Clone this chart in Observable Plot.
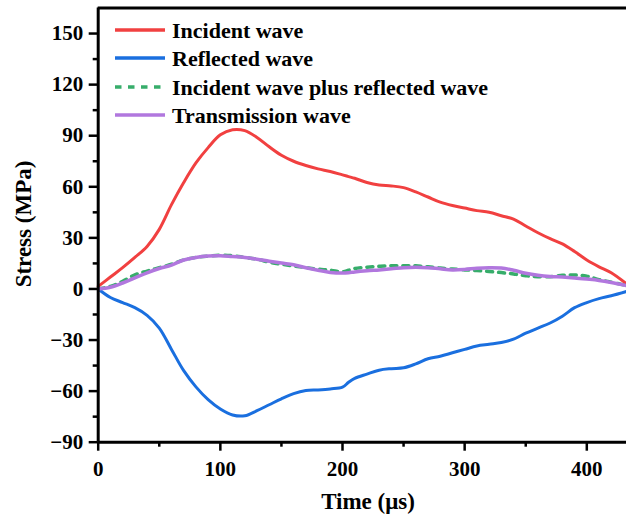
<!DOCTYPE html>
<html><head><meta charset="utf-8">
<script src="https://cdn.jsdelivr.net/npm/d3@7"></script>
<script src="https://cdn.jsdelivr.net/npm/@observablehq/plot@0.6"></script>
<style>body{margin:0;background:#fff}</style>
</head><body><div id="chart"></div>
<script>
const time = [0,10,20,30,40,50,60,70,80,90,100,110,120,130,140,150,160,170,180,190,200,205,210,220,230,240,250,260,270,280,290,300,310,320,330,340,350,360,370,380,390,400,410,420,432.5];
const incident = [1.5,7,12.5,18.5,25,35,49.5,62.5,74,83,90.5,93.5,93,89,83.5,78.5,75,72.5,70.5,69,67,66,65,62.5,61,60.5,59.5,57,54,51,49,47.5,46,45,43,41,37,33,29.5,26.5,22,17,13,9.5,3];
const reflected = [0,-5,-8,-11,-15.5,-23,-35.5,-48,-57.5,-65,-70.5,-74,-74.5,-71.5,-68,-64.5,-61.5,-59.7,-59.3,-58.7,-57.7,-54.8,-52.5,-50,-47.7,-46.8,-46.3,-44,-41,-39.5,-37.5,-35.5,-33.5,-32.5,-31.5,-29.5,-26,-23,-20,-16,-11,-8,-5.7,-4,-1.5];
const sumWave = [0,1.5,4.5,8.3,10.5,12.5,14.5,17,18.5,19.3,19.8,19.5,18.5,17.5,15.7,14.5,13.5,12.5,11.6,11,10,11,12,12.8,13.3,13.6,13.6,13.6,13,12.3,11.7,11.2,10.8,10.3,9.6,8.8,7.8,7.2,7.2,8,8.2,7.5,5.5,4,2];
const transmission = [0,1,3.5,6.5,9.5,12,14,17,18.5,19.3,19.5,19,18.5,17.5,16.3,15.2,14.2,12.5,11,9.7,9.3,9.5,10,10.7,11.2,11.8,12.5,12.8,12.5,11.8,11.2,11.5,12.2,12.5,12.3,11,9.2,8,7.3,7,6.5,5.8,5,3.8,2];
const seriesNames = ["Incident wave","Reflected wave","Incident wave plus reflected wave","Transmission wave"];
const colors = ["#F14040","#1A6FDF","#37AD6B","#B177DE"];
const xTicks = [0,100,200,300,400];
const xMinor = [50,150,250,350];
const yTicks = [-90,-60,-30,0,30,60,90,120,150];
const yMinor = [-75,-45,-15,15,45,75,105,135];
const xTitle = "Time (μs)";
const yTitle = "Stress (MPa)";

const seriesValues = [incident, reflected, sumWave, transmission];
const tables = seriesValues.map((arr, i) => arr.map((v, j) => ({t: time[j], v, s: seriesNames[i]})));

const font = "'Liberation Serif','Times New Roman',serif";
const W = 626, H = 517, mL = 97.7, mR = 0, mT = 7.5, mB = 75.3;

const lineOpts = (i, extra = {}) => ({x: "t", y: "v", stroke: colors[i], strokeWidth: 3, curve: "catmull-rom", ...extra});

const plot = Plot.plot({
  width: W, height: H, marginLeft: mL, marginRight: mR, marginTop: mT, marginBottom: mB,
  style: {fontFamily: font, fontWeight: "bold", fontSize: "21px", background: "#fff", color: "#000", overflow: "visible"},
  x: {domain: [0, 432.5]},
  y: {domain: [-90, 165]},
  marks: [
    Plot.line(tables[0], lineOpts(0)),
    Plot.line(tables[1], lineOpts(1)),
    Plot.line(tables[2], lineOpts(2, {strokeDasharray: "6,6", strokeWidth: 3.5})),
    Plot.line(tables[3], lineOpts(3, {strokeWidth: 3.5})),
    Plot.axisX(xTicks, {tickSize: 9, tickPadding: 10, strokeWidth: 2.5, fontSize: 21, label: null, fill: "#000"}),
    Plot.axisX(xMinor, {tickSize: 5, strokeWidth: 2.5, tickFormat: () => "", label: null}),
    Plot.axisY(yTicks, {tickSize: 9, tickPadding: 6, strokeWidth: 2.5, fontSize: 21, label: null, fill: "#000"}),
    Plot.axisY(yMinor, {tickSize: 5, strokeWidth: 2.5, tickFormat: () => "", label: null}),
    Plot.ruleX([0], {strokeWidth: 3}),
    Plot.ruleY([-90], {strokeWidth: 3}),
    Plot.ruleY([165], {strokeWidth: 3})
  ]
});

const svg = d3.select(plot);
// axis titles
svg.append("text").attr("x", 368).attr("y", 509).attr("text-anchor", "middle")
  .attr("font-family", font).attr("font-weight", "bold").attr("font-size", 23).attr("fill", "#000").text(xTitle);
svg.append("text").attr("transform", "translate(31,224) rotate(-90)").attr("text-anchor", "middle")
  .attr("font-family", font).attr("font-weight", "bold").attr("font-size", 23).attr("fill", "#000").text(yTitle);
// legend
const leg = svg.append("g").attr("text-anchor", "start");
const rowY = [30, 58, 87, 115];
seriesNames.forEach((name, i) => {
  const g = leg.append("g").attr("transform", `translate(0,${rowY[i]})`);
  g.append("line").attr("x1", 115).attr("x2", 165).attr("y1", 0).attr("y2", 0)
    .attr("stroke", colors[i]).attr("stroke-width", 3.5)
    .attr("stroke-dasharray", i === 2 ? "6.5,6.5" : null);
  g.append("text").attr("x", 172).attr("y", 7.5).attr("text-anchor", "start")
    .attr("font-family", font).attr("font-weight", "bold").attr("font-size", 22).attr("fill", "#000").text(name);
});

document.getElementById("chart").appendChild(plot);
</script>
</body></html>
